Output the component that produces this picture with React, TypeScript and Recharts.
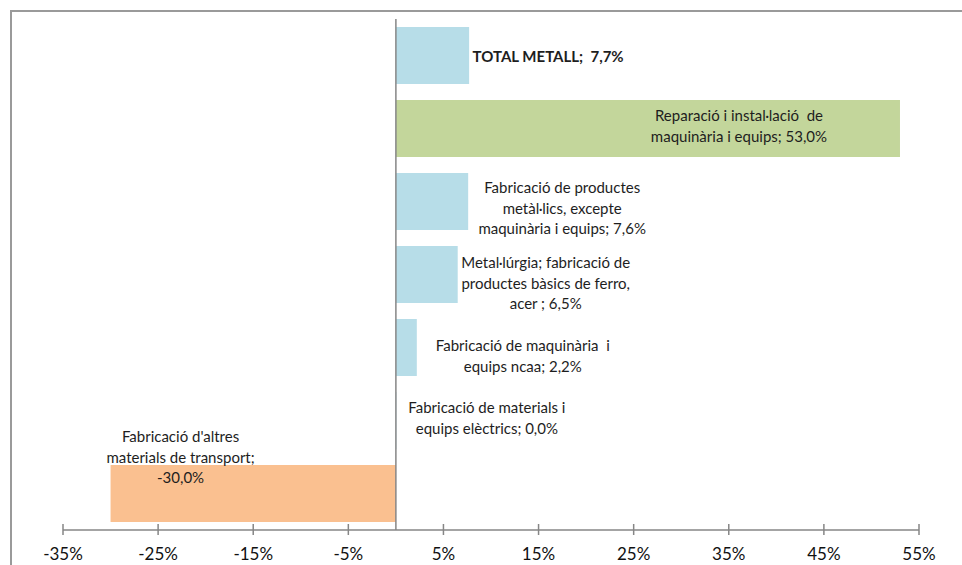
import React from "react";
import {
  BarChart,
  Bar,
  XAxis,
  YAxis,
  Cell,
  ReferenceLine,
  LabelList,
} from "recharts";

// categories, top to bottom
const categories = [
  "TOTAL METALL",
  "Reparació i instal·lació de maquinària i equips",
  "Fabricació de productes metàl·lics, excepte maquinària i equips",
  "Metal·lúrgia; fabricació de productes bàsics de ferro, acer",
  "Fabricació de maquinària i equips ncaa",
  "Fabricació de materials i equips elèctrics",
  "Fabricació d'altres materials de transport",
];

const values = [7.7, 53.0, 7.6, 6.5, 2.2, 0.0, -30.0];

const barColors = [
  "#b7dde8",
  "#c3d69b",
  "#b7dde8",
  "#b7dde8",
  "#b7dde8",
  "#b7dde8",
  "#fac090",
];

const xTicks = [-35, -25, -15, -5, 5, 15, 25, 35, 45, 55];

// wrapped label text, {v} is replaced by the formatted value
const labelLines = [
  ["TOTAL METALL;  {v}"],
  ["Reparació i instal·lació  de", "maquinària i equips; {v}"],
  ["Fabricació de productes", "metàl·lics, excepte", "maquinària i equips; {v}"],
  ["Metal·lúrgia; fabricació de", "productes bàsics de ferro,", "acer ; {v}"],
  ["Fabricació de maquinària  i", "equips ncaa; {v}"],
  ["Fabricació de materials i", "equips elèctrics; {v}"],
  ["Fabricació d'altres", "materials de transport;", "{v}"],
];

// where each label sits, measured from the end of its bar
const labelShift = [
  { dx: 79, dy: 0 },
  { dx: -161, dy: -3 },
  { dx: 94, dy: 6 },
  { dx: 88, dy: 8 },
  { dx: 106, dy: 8 },
  { dx: 91, dy: -3 },
  { dx: 70, dy: -37 },
];

const data = categories.map((name, i) => ({ name, value: values[i] }));

const fmt = (v: number) => v.toFixed(1).replace(".", ",") + "%";

const FONT = "Lato, 'Open Sans', sans-serif";
const AXIS_GREY = "#868686";

const BarLabel = (props: any) => {
  const vb = props.viewBox ?? props;
  let index = props.index as number;
  if (values[index] !== props.value) {
    const found = values.indexOf(props.value);
    if (found >= 0) index = found;
  }
  const value = values[index];
  const x = Number(vb.x);
  const w = Number(vb.width);
  const y = Number(vb.y);
  const h = Number(vb.height);
  // zero bars get a tiny min size, so snap their end back to the base
  const end =
    value === 0 ? x : value < 0 ? Math.min(x, x + w) : Math.max(x, x + w);
  const cy = y + h / 2;
  const lines = labelLines[index];
  const shift = labelShift[index];
  const lineH = 20.5;
  const startY = cy + shift.dy - ((lines.length - 1) * lineH) / 2;
  return (
    <text
      x={end + shift.dx}
      y={startY}
      textAnchor="middle"
      dominantBaseline="central"
      fontFamily={FONT}
      fontSize={15}
      fontWeight={index === 0 ? 700 : 400}
      fill="#1e1e1e"
      style={{ whiteSpace: "pre" }}
    >
      {lines.map((ln, i) => (
        <tspan key={i} x={end + shift.dx} y={startY + i * lineH}>
          {ln.replace("{v}", fmt(value))}
        </tspan>
      ))}
    </text>
  );
};

const AxisTick = ({ x, y, payload }: any) => (
  <g>
    <line x1={x} x2={x} y1={y - 6} y2={y + 5} stroke={AXIS_GREY} strokeWidth={1.5} />
    <text
      x={x}
      y={y + 23}
      textAnchor="middle"
      dominantBaseline="central"
      fontFamily={FONT}
      fontSize={17}
      fill="#111"
    >
      {payload.value}%
    </text>
  </g>
);

export default function App() {
  return (
    <div
      style={{
        position: "fixed",
        left: 0,
        top: 0,
        width: 962,
        height: 565,
        overflow: "hidden",
        background: "#fff",
      }}
    >
      <div
        style={{
          position: "absolute",
          left: 10,
          top: 10,
          width: 1000,
          height: 600,
          borderTop: "2px solid #9a9a9a",
          borderLeft: "2px solid #9a9a9a",
        }}
      />
      <div style={{ position: "absolute", left: 0, top: 0 }}>
        <BarChart
          width={962}
          height={565}
          data={data}
          layout="vertical"
          margin={{ top: 19, right: 43, left: 63, bottom: 5 }}
        >
          <XAxis
            type="number"
            domain={[-35, 55]}
            ticks={xTicks}
            interval={0}
            height={30}
            axisLine={{ stroke: AXIS_GREY, strokeWidth: 1.5 }}
            tickLine={false}
            tickSize={0}
            tickMargin={0}
            tick={<AxisTick />}
          />
          <YAxis type="category" dataKey="name" hide />
          <Bar
            dataKey="value"
            barSize={57}
            minPointSize={0.5}
            isAnimationActive={false}
          >
            {data.map((d, i) => (
              <Cell key={d.name} fill={barColors[i]} />
            ))}
            <LabelList dataKey="value" content={<BarLabel />} />
          </Bar>
          <ReferenceLine x={0} stroke={AXIS_GREY} strokeWidth={1.5} />
        </BarChart>
      </div>
    </div>
  );
}
